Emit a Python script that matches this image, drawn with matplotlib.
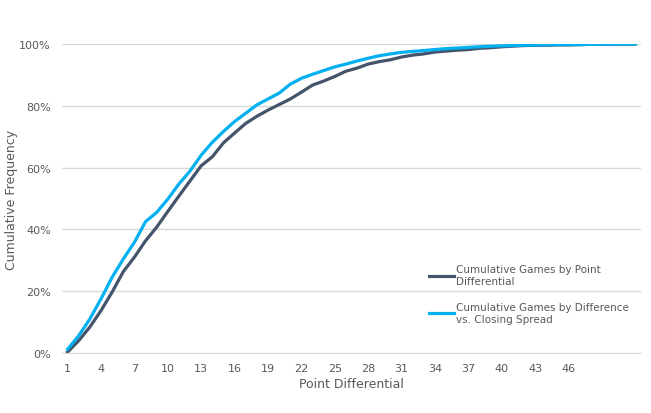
import matplotlib
matplotlib.use("Agg")
import matplotlib.pyplot as plt
from matplotlib.ticker import PercentFormatter

# data (percent of games, cumulative)
diff = list(range(1, 53))
point_diff = [0.3, 4.0, 8.4, 13.7, 19.7, 26.3, 31.0, 36.3, 40.7, 45.8,
              50.8, 55.7, 60.6, 63.5, 68.0, 71.2, 74.3, 76.6, 78.6, 80.4,
              82.2, 84.4, 86.7, 88.0, 89.5, 91.2, 92.2, 93.5, 94.3, 94.9,
              95.8, 96.4, 96.8, 97.4, 97.7, 98.0, 98.2, 98.6, 98.8, 99.1,
              99.3, 99.5, 99.6, 99.6, 99.7, 99.7, 99.8, 99.9, 99.9, 100.0,
              100.0, 100.0]
spread_diff = [1.2, 5.6, 11.0, 17.5, 24.5, 30.4, 35.8, 42.5, 45.5, 49.8,
               54.7, 58.9, 64.0, 68.2, 71.7, 74.9, 77.6, 80.3, 82.2, 84.1,
               87.0, 88.9, 90.2, 91.4, 92.6, 93.5, 94.5, 95.4, 96.2, 96.8,
               97.3, 97.6, 97.9, 98.2, 98.5, 98.7, 98.9, 99.1, 99.3, 99.4,
               99.5, 99.6, 99.7, 99.7, 99.8, 99.8, 99.8, 99.9, 99.9, 100.0,
               100.0, 100.0]
tick_vals = list(range(1, 47, 3))

grey = '#595959'

fig = plt.figure(figsize=(6.51, 4.14), dpi=100)
ax = fig.add_axes([62 / 651, 1 - 354 / 414, (641 - 62) / 651, (354 - 45) / 414])

ax.plot(diff, point_diff, color='#44546a', lw=2.3,
        label='Cumulative Games by Point\nDifferential')
ax.plot(diff, spread_diff, color='#00b0f0', lw=2.3,
        label='Cumulative Games by Difference\nvs. Closing Spread')

ax.set_xlim(0.5, 52.5)
ax.set_ylim(0, 100)
ax.set_yticks(range(0, 101, 20))
ax.yaxis.set_major_formatter(PercentFormatter(decimals=0))
ax.set_xticks(tick_vals)
ax.grid(axis='y', color='#d9d9d9', lw=1)
ax.set_axisbelow(True)
for s in ['top', 'right', 'left']:
    ax.spines[s].set_visible(False)
ax.spines['bottom'].set_color('#d9d9d9')
ax.tick_params(length=0, colors=grey, labelsize=8, pad=7)
ax.tick_params(axis='y', pad=8)

ax.set_xlabel('Point Differential', color=grey, fontsize=9, labelpad=3)
fig.text(12 / 651, 1 - 200 / 414, 'Cumulative Frequency', color=grey, fontsize=9,
         rotation=90, ha='center', va='center')

leg = ax.legend(loc='upper left', bbox_to_anchor=(420 / 651, 1 - 256 / 414),
                bbox_transform=fig.transFigure, frameon=False, fontsize=7.5,
                handlelength=2.4, handletextpad=0.15, labelspacing=1.55,
                labelcolor=grey)

fig.savefig('out.png', dpi=100)
